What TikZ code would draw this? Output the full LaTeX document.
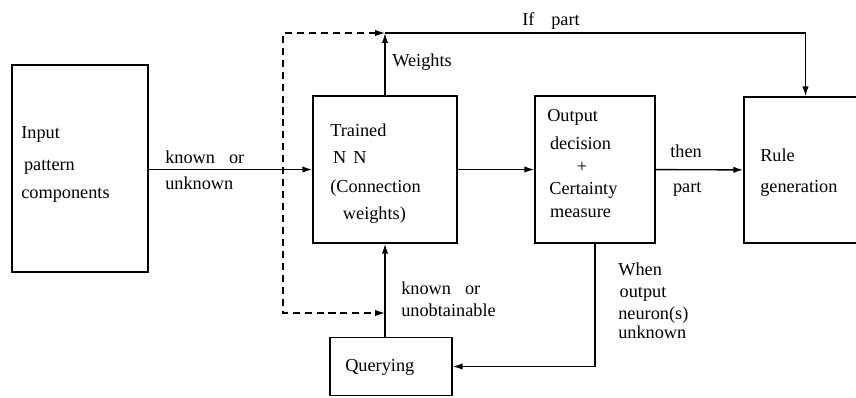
\documentclass[tikz,border=0pt]{standalone}
\usepackage{fontspec}
\setmainfont{Liberation Serif}
\usetikzlibrary{arrows.meta, positioning, calc}
\newcommand\dgfont{\fontsize{13}{16}\selectfont}
\tikzset{
    block/.style={rectangle, draw, line width=1pt, inner sep=0pt},
    txt/.style={font=\dgfont, align=left, anchor=west, inner sep=0pt},
    arr/.style={line width=1pt, -{Latex[length=7pt,width=4.5pt]}},
    dasharr/.style={line width=1pt, dash pattern=on 5pt off 3.5pt, {Latex[length=7pt,width=4.5pt]}-{Latex[length=7pt,width=4.5pt]}}
}
\begin{document}
\begin{tikzpicture}[x=0.025cm, y=-0.025cm]
    \useasboundingbox (0,0) rectangle (856,397);
    \clip (0,0) rectangle (856,397);

    % boxes
    \node[block, minimum width=3.4cm, minimum height=5.175cm] (input) at (80,168.5) {};
    \node[block, minimum width=3.6cm, minimum height=3.675cm] (nn) at (385,169.5) {};
    \node[block, minimum width=3.0cm, minimum height=3.675cm] (output) at (595,169.5) {};
    \node[block, minimum width=3.075cm, minimum height=3.65cm] (rule) at (805.5,170) {};
    \node[block, minimum width=3.05cm, minimum height=1.45cm] (query) at (391,366.5) {};

    % box texts
    \node[txt] (tin) at (21,164.5) {Input\\[7pt]\hspace*{2pt}pattern\\[4pt]components};
    \node[txt] (tnn) at (330,173.5) {Trained\\[3pt]\hspace*{2pt}N\hspace{5pt}N\\[5pt](Connection\\[2.5pt]\hspace*{9pt}weights)};
    \node[txt] (tout) at (547,163.5) {Output\\[4pt]\hspace*{2pt}decision\\\hspace*{21pt}+\\\hspace*{1.5pt}Certainty\\\hspace*{2pt}measure};
    \node[txt] (trule) at (760,172.5) {Rule\\[6pt]generation};
    \node[txt] (tq) at (345,367) {Querying};

    % connectors
    \coordinate (junc) at (nn.north |- 0,33);
    \coordinate (dtop) at (283,33);
    \coordinate (dbot) at (283,313);
    \draw[arr] (input.east |- nn) -- (nn);
    \draw[arr] (nn) -- (output);
    \draw[arr] (output) -- (rule);
    \draw[arr] (nn.north) -- (junc);
    \draw[arr] (junc) -| (rule.north);
    \draw[arr] (query.north -| nn) -- (nn.south);
    \draw[arr] (output.south) |- (query.east);
    \draw[dasharr] (junc) -- (dtop) -- (dbot) -- (dbot -| nn);

    % connector labels
    \node[txt] (tif) at (522,21) {If\hspace{12pt}part};
    \node[txt] (tw) at (392,62) {Weights};
    \node[txt] (tknown) at (165,170) {known\hspace{10pt}or\\[2.4pt]unknown};
    \node[txt] (tthen) at (670,170.5) {then\\[9pt]\hspace*{2pt}part};
    \node[txt] (tobt) at (401,299) {known\hspace{10pt}or\\unobtainable};
    \node[txt] (twhen) at (618,300.5) {When\\[-0.5pt]\hspace*{1pt}output\\[-0.5pt]neuron(s)\\[-2.5pt]unknown};
\end{tikzpicture}
\end{document}
